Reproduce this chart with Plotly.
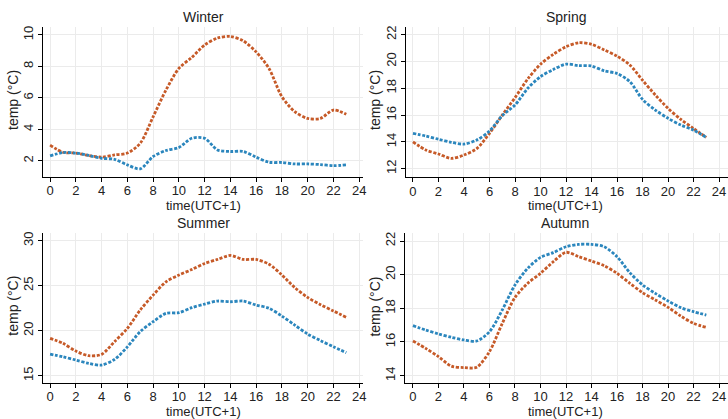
import plotly.graph_objects as go

hours = list(range(24))

winter_orange = [3.0, 2.55, 2.5, 2.35, 2.24, 2.38, 2.5, 3.12, 4.8, 6.5, 7.87, 8.57, 9.35, 9.8, 9.9, 9.62,
                 8.92, 7.87, 6.08, 5.13, 4.7, 4.7, 5.23, 4.96]
winter_blue = [2.32, 2.53, 2.5, 2.35, 2.17, 2.1, 1.75, 1.5, 2.28, 2.66, 2.85, 3.44, 3.44, 2.7, 2.6, 2.6,
               2.24, 1.92, 1.9, 1.81, 1.81, 1.77, 1.7, 1.75]

spring_orange = [14.0, 13.4, 13.1, 12.77, 13.02, 13.5, 14.64, 16.0, 17.3, 18.7, 19.8, 20.53, 21.1, 21.4,
                 21.28, 20.86, 20.4, 19.74, 18.6, 17.5, 16.5, 15.68, 15.0, 14.34]
spring_blue = [14.64, 14.44, 14.2, 13.97, 13.84, 14.14, 14.81, 15.96, 16.75, 18.0, 18.87, 19.4, 19.8, 19.69,
               19.66, 19.3, 19.1, 18.5, 17.17, 16.38, 15.76, 15.26, 14.88, 14.34]

summer_orange = [19.15, 18.6, 17.74, 17.22, 17.37, 18.78, 20.26, 22.3, 23.96, 25.44, 26.19, 26.8, 27.48,
                 27.93, 28.37, 27.93, 27.93, 27.4, 26.2, 24.8, 23.7, 22.9, 22.2, 21.5]
summer_blue = [17.4, 17.1, 16.74, 16.37, 16.18, 16.8, 18.2, 19.9, 21.0, 21.93, 22.0, 22.56, 22.96, 23.3,
               23.22, 23.3, 22.85, 22.5, 21.63, 20.63, 19.63, 18.9, 18.22, 17.56]

autumn_orange = [16.06, 15.62, 15.13, 14.57, 14.48, 14.5, 15.43, 17.1, 18.65, 19.49, 20.08, 20.77, 21.33,
                 21.07, 20.81, 20.53, 20.08, 19.49, 18.93, 18.5, 18.06, 17.54, 17.11, 16.87]
autumn_blue = [16.97, 16.71, 16.48, 16.28, 16.12, 16.06, 16.61, 17.9, 19.39, 20.38, 21.03, 21.31, 21.66,
               21.8, 21.8, 21.66, 21.07, 20.12, 19.39, 18.89, 18.44, 18.04, 17.8, 17.6]

season_titles = ["Winter", "Spring", "Summer", "Autumn"]
x_ticks = list(range(0, 25, 2))
y_ticks = [[2, 4, 6, 8, 10], [12, 14, 16, 18, 20, 22], [15, 20, 25, 30], [14, 16, 18, 20, 22]]

W, H = 728, 419
ORANGE = "#C65A28"
BLUE = "#2B86BD"
FONT = "Liberation Sans, Arial, sans-serif"

# panel pixel boxes: (left, right, top, bottom), x range, y range
panels = [
    ((43, 363, 27, 176.7), [-0.55, 24.3], [1.0, 10.5]),
    ((405.7, 728, 27.3, 177.3), [-0.57, 24.7], [11.36, 22.55]),
    ((43, 363, 232.7, 382.7), [-0.55, 24.3], [14.22, 30.9]),
    ((405.3, 728, 233.3, 382.7), [-0.6, 24.7], [13.58, 22.46]),
]
series = [(winter_orange, winter_blue), (spring_orange, spring_blue),
          (summer_orange, summer_blue), (autumn_orange, autumn_blue)]

fig = go.Figure()
layout = {}
annotations = []
for i, ((l, r, t, b), xr, yr) in enumerate(panels):
    n = "" if i == 0 else str(i + 1)
    xa, ya = "x" + n, "y" + n
    orange, blue = series[i]
    for vals, col in ((orange, ORANGE), (blue, BLUE)):
        fig.add_trace(go.Scatter(x=hours, y=vals, mode="lines", xaxis=xa, yaxis=ya,
                                 line=dict(color=col, width=2.8, dash="3px,1.6px", shape="spline",
                                           smoothing=0.8),
                                 showlegend=False, hoverinfo="skip"))
    common = dict(showline=True, linecolor="black", linewidth=1, ticks="outside", ticklen=4,
                  tickcolor="black", showgrid=True, gridcolor="#ebebeb", gridwidth=1, zeroline=False,
                  automargin=False, ticklabeloverflow="allow",
                  tickfont=dict(family=FONT, size=13, color="#222"))
    layout["xaxis" + n] = dict(domain=[l / W, r / W], range=xr, anchor=ya, tickvals=x_ticks,
                               ticklabelstandoff=-2, **common)
    layout["yaxis" + n] = dict(domain=[1 - b / H, 1 - t / H], range=yr, anchor=xa, tickvals=y_ticks[i],
                               tickangle=-90, **common)
    cx = l + 160
    annotations.append(dict(text=season_titles[i], x=cx / W, y=1 - (t - 10) / H, xref="paper", yref="paper",
                            showarrow=False, xanchor="center", yanchor="middle",
                            font=dict(family=FONT, size=14, color="#222")))
    annotations.append(dict(text="time(UTC+1)", x=cx / W, y=1 - (b + 28.5) / H, xref="paper", yref="paper",
                            showarrow=False, xanchor="center", yanchor="middle",
                            font=dict(family=FONT, size=13, color="#222")))
    annotations.append(dict(text="temp (°C)", x=(l - 30) / W, y=1 - (t + 73) / H, xref="paper", yref="paper",
                            showarrow=False, xanchor="center", yanchor="middle", textangle=-90,
                            font=dict(family=FONT, size=14, color="#222")))

fig.update_layout(width=W, height=H, margin=dict(l=0, r=0, t=0, b=0), plot_bgcolor="white",
                  paper_bgcolor="white", annotations=annotations, **layout)
fig.write_html("out.html", config={"displayModeBar": False},
               post_script="document.body.style.margin='0';document.body.style.overflow='hidden';")
